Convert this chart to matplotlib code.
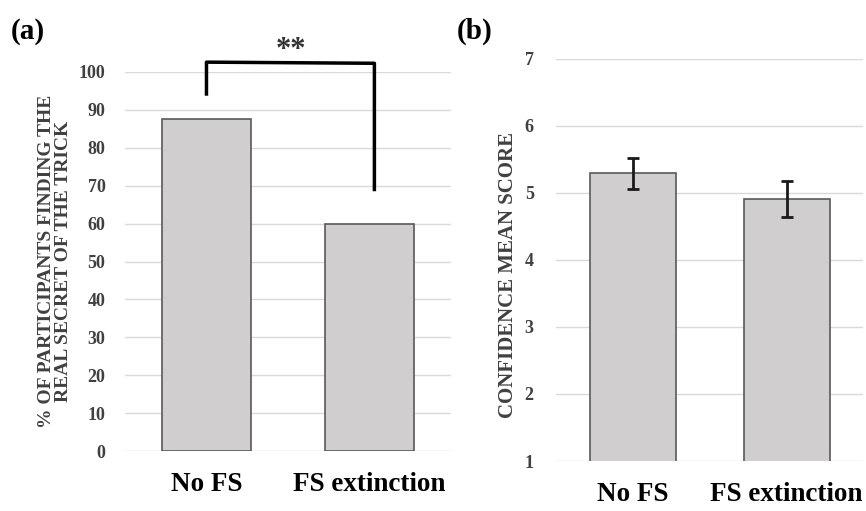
import matplotlib.pyplot as plt

plt.rcParams['font.family'] = ['Liberation Serif', 'DejaVu Serif']
plt.rcParams['font.weight'] = 'bold'
plt.rcParams['axes.labelweight'] = 'bold'

# data
groups = ['No FS', 'FS extinction']
pct_found = [87.5, 60]
conf_mean = [5.29, 4.91]
conf_err = [0.23, 0.27]
sig_label = '**'

bar_color = '#d0cece'
edge_color = '#595959'
grid_color = '#d9d9d9'
tick_color = '#404040'

fig = plt.figure(figsize=(8.66, 5.11), dpi=100)

# panel (a)
ax1 = fig.add_axes([0.1443, 0.1174, 0.3765, 0.7417])
x = range(len(groups))
ax1.bar(x, pct_found, width=0.55, color=bar_color, edgecolor=edge_color, linewidth=1.2, zorder=3)
ax1.set_xlim(-0.5, 1.5)
ax1.set_ylim(0, 100)
ax1.set_yticks(range(0, 101, 10))
ax1.grid(axis='y', color=grid_color, linewidth=1, zorder=0)
for s in ax1.spines.values():
    s.set_visible(False)
ax1.tick_params(axis='both', length=0)
ax1.tick_params(axis='y', labelsize=13, labelcolor=tick_color, pad=14)
ax1.set_xticks(list(x))
ax1.set_xticklabels(groups, fontsize=19.5, fontweight='bold')
ax1.tick_params(axis='x', pad=15)
ax1.set_ylabel('% OF PARTICIPANTS FINDING THE\nREAL SECRET OF THE TRICK',
               fontsize=14, color=tick_color, linespacing=0.95)
ax1.yaxis.set_label_coords(-0.163, 0.5)

# significance bracket
ax1.plot([0, 0, 1.03, 1.03], [94.2, 102.6, 102.3, 69], color='black', lw=2.5,
         clip_on=False, zorder=4)
ax1.text(0.52, 101.8, sig_label, ha='center', va='bottom', fontsize=22,
         fontweight='bold', color='#333333')
fig.text(0.012, 0.925, '(a)', fontsize=21, fontweight='bold')

# panel (b)
ax2 = fig.add_axes([0.642, 0.0978, 0.355, 0.787])
ax2.bar(x, conf_mean, width=0.56, color=bar_color, edgecolor=edge_color, linewidth=1.2,
        zorder=3)
ax2.errorbar(list(x), conf_mean, yerr=conf_err, fmt='none', ecolor='#1a1a1a',
             elinewidth=2, capsize=4, capthick=2, zorder=4)
ax2.set_xlim(-0.5, 1.5)
ax2.set_ylim(1, 7)
ax2.set_yticks(range(1, 8))
ax2.grid(axis='y', color=grid_color, linewidth=1, zorder=0)
for s in ax2.spines.values():
    s.set_visible(False)
ax2.tick_params(axis='both', length=0)
ax2.tick_params(axis='y', labelsize=13, labelcolor=tick_color, pad=16)
ax2.set_xticks(list(x))
ax2.set_xticklabels(groups, fontsize=19.5, fontweight='bold')
ax2.tick_params(axis='x', pad=15)
ax2.set_ylabel('CONFIDENCE MEAN SCORE', fontsize=15, color=tick_color)
ax2.yaxis.set_label_coords(-0.125, 0.463)
fig.text(0.527, 0.925, '(b)', fontsize=21, fontweight='bold')

fig.savefig('out.png', dpi=100)
